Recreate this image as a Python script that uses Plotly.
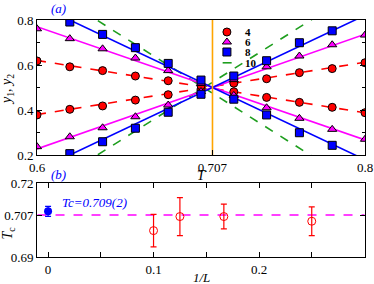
import plotly.graph_objects as go

# ---------------- data ----------------
T = [0.60, 0.62, 0.64, 0.66, 0.68, 0.70, 0.72, 0.74, 0.76, 0.78, 0.80]
# L = 4 (circles)
y4_inc = [0.378, 0.403, 0.418, 0.444, 0.468, 0.492, 0.519, 0.539, 0.566, 0.584, 0.610]
y4_dec = [0.618, 0.592, 0.575, 0.551, 0.530, 0.508, 0.481, 0.456, 0.434, 0.412, 0.388]
# L = 6 (triangles)
y6_inc = [0.237, 0.281, 0.321, 0.370, 0.422, 0.482, 0.535, 0.592, 0.640, 0.690, 0.733]
y6_dec = [0.761, 0.717, 0.672, 0.631, 0.575, 0.518, 0.465, 0.410, 0.363, 0.314, 0.270]
# L = 8 (squares)
y8_inc = [None, 0.206, 0.259, 0.319, 0.390, 0.470, 0.551, 0.619, 0.699, 0.752, None]
y8_dec = [None, 0.791, 0.736, 0.677, 0.607, 0.533, 0.448, 0.378, 0.299, 0.243, None]

# straight fit lines (values at T = 0.6 and T = 0.8)
fit_T = [0.6, 0.8]
fit4_inc = [0.380, 0.612]
fit4_dec = [0.620, 0.388]
fit6_inc = [0.227, 0.737]
fit6_dec = [0.770, 0.267]
fit8_inc = [0.131, 0.821]
fit8_dec = [0.869, 0.179]
fit10_inc = [0.030, 0.952]
fit10_dec = [0.968, 0.046]

T_cross = 0.707

# panel (b)
invL = [0.1, 0.125, 1/6, 0.25]
Tc_L = [0.7007, 0.7064, 0.7064, 0.7045]
Tc_err = [0.0066, 0.0077, 0.0050, 0.0058]
invL_inf = [0.0]
Tc_inf = [0.7085]
Tc_inf_err = [0.002]
Tc_ref = 0.707

legend_labels = ["4", "6", "8", "10"]

x1_ticks = [0.6, 0.707, 0.8]
x1_text = ["0.6", "0.707", "0.8"]
y1_ticks = [0.2, 0.4, 0.6, 0.8]
y1_text = ["0.2", "0.4", "0.6", "0.8"]
x2_ticks = [0, 0.1, 0.2]
x2_text = ["0", "0.1", "0.2"]
y2_ticks = [0.69, 0.707, 0.72]
y2_text = ["0.69", "0.707", "0.72"]

# ---------------- styles ----------------
RED = "#FF0000"
MAG = "#FF00FF"
BLUE = "#0000FF"
GREEN = "#1E9E1E"
ORANGE = "#FFA500"
FONT = "Liberation Serif"

fig = go.Figure()

def line(x, y, color, dash):
    fig.add_trace(go.Scatter(x=x, y=y, mode="lines", xaxis="x", yaxis="y",
                             line=dict(color=color, width=1.6, dash=dash),
                             showlegend=False, hoverinfo="skip"))

def pts(y, color, symbol, size):
    fig.add_trace(go.Scatter(x=T, y=y, mode="markers", xaxis="x", yaxis="y",
                             marker=dict(color=color, symbol=symbol, size=size,
                                         line=dict(color="black", width=1)),
                             showlegend=False))

# green (L=10) lines
line(fit_T, fit10_inc, GREEN, "dash")
line(fit_T, fit10_dec, GREEN, "dash")
# fits
line(fit_T, fit4_inc, RED, "dash")
line(fit_T, fit4_dec, RED, "dash")
line(fit_T, fit6_inc, MAG, "solid")
line(fit_T, fit6_dec, MAG, "solid")
line(fit_T, fit8_inc, BLUE, "solid")
line(fit_T, fit8_dec, BLUE, "solid")
# orange vertical line at crossing
fig.add_trace(go.Scatter(x=[T_cross, T_cross], y=[0.2, 0.8], mode="lines",
                         xaxis="x", yaxis="y", line=dict(color=ORANGE, width=1.6),
                         showlegend=False))
# points
pts(y4_inc, RED, "circle", 8)
pts(y4_dec, RED, "circle", 8)
pts(y6_inc, MAG, "triangle-up", 8)
pts(y6_dec, MAG, "triangle-up", 8)
pts(y8_inc, BLUE, "square", 8)
pts(y8_dec, BLUE, "square", 8)

# ---- manual legend on an overlay axis (0..1 over panel a) ----
leg_x = 0.579
leg_y = [0.911, 0.837, 0.763, 0.683]
leg_style = [(RED, "circle"), (MAG, "triangle-up"), (BLUE, "square")]
for i, (c, s) in enumerate(leg_style):
    fig.add_trace(go.Scatter(x=[leg_x], y=[leg_y[i]], mode="markers",
                             xaxis="x3", yaxis="y3",
                             marker=dict(color=c, symbol=s, size=8,
                                         line=dict(color="black", width=1)),
                             showlegend=False))
fig.add_trace(go.Scatter(x=[leg_x - 0.013, leg_x + 0.034], y=[leg_y[3], leg_y[3]],
                         mode="lines", xaxis="x3", yaxis="y3",
                         line=dict(color=GREEN, width=1.6, dash="dash"),
                         showlegend=False))
annotations = []
for i, lab in enumerate(legend_labels):
    annotations.append(dict(x=0.628, y=leg_y[i], xref="x3", yref="y3",
                            text="<b>%s</b>" % lab, showarrow=False,
                            xanchor="left", yanchor="middle",
                            font=dict(family=FONT, size=11, color="black")))

# ---- panel (b) ----
fig.add_trace(go.Scatter(x=[-0.01, 0.30], y=[Tc_ref, Tc_ref], mode="lines",
                         xaxis="x2", yaxis="y2",
                         line=dict(color=MAG, width=1.4, dash="dash"),
                         showlegend=False))
fig.add_trace(go.Scatter(x=invL, y=Tc_L, mode="markers", xaxis="x2", yaxis="y2",
                         marker=dict(color=RED, symbol="circle-open", size=8,
                                     line=dict(color=RED, width=1)),
                         error_y=dict(type="data", array=Tc_err, color=RED,
                                      thickness=1.2, width=3),
                         showlegend=False))
fig.add_trace(go.Scatter(x=invL_inf, y=Tc_inf, mode="markers", xaxis="x2", yaxis="y2",
                         marker=dict(color=BLUE, symbol="circle", size=8),
                         error_y=dict(type="data", array=Tc_inf_err, color=BLUE,
                                      thickness=1.2, width=3),
                         showlegend=False))

annotations += [
    dict(x=0.011, y=0.7121, xref="x2", yref="y2", text="<i>Tc=0.709(2)</i>",
         showarrow=False, xanchor="left", yanchor="middle",
         font=dict(family=FONT, size=13, color=BLUE)),
    dict(x=0.0366, y=1.0506, xref="paper", yref="paper", text="<i>(a)</i>",
         showarrow=False, xanchor="left", yanchor="middle",
         font=dict(family=FONT, size=13, color=BLUE)),
    dict(x=0.0366, y=0.346, xref="paper", yref="paper", text="<i>(b)</i>",
         showarrow=False, xanchor="left", yanchor="middle",
         font=dict(family=FONT, size=13, color=BLUE)),
    dict(x=0.5, y=0.342, xref="paper", yref="paper", text="<i>T</i>",
         showarrow=False, xanchor="center", yanchor="middle",
         font=dict(family=FONT, size=14, color="black")),
    dict(x=0.5, y=-0.085, xref="paper", yref="paper", text="<i>1/L</i>",
         showarrow=False, xanchor="center", yanchor="middle",
         font=dict(family=FONT, size=13, color="black")),
    dict(x=-0.088, y=0.705, xref="paper", yref="paper",
         text="<i>y</i><sub>1</sub>, <i>y</i><sub>2</sub>", textangle=-90,
         showarrow=False, xanchor="center", yanchor="middle",
         font=dict(family=FONT, size=14, color="black")),
    dict(x=-0.088, y=0.10, xref="paper", yref="paper",
         text="<i>T</i><sub>c</sub>", textangle=-90,
         showarrow=False, xanchor="center", yanchor="middle",
         font=dict(family=FONT, size=14, color="black")),
]

axis_common = dict(showgrid=False, zeroline=False, showline=True, linecolor="black",
                   linewidth=1, ticks="inside", tickcolor="black", ticklen=5,
                   automargin=False,
                   tickfont=dict(family=FONT, size=13, color="black"))

fig.update_layout(
    width=374, height=284,
    margin=dict(l=37, r=9, t=20, b=27, autoexpand=False),
    paper_bgcolor="white", plot_bgcolor="white",
    showlegend=False,
    xaxis=dict(**axis_common, domain=[0, 1], range=[0.6, 0.8], anchor="y",
               tickmode="array", tickvals=x1_ticks, ticktext=x1_text, mirror=True),
    yaxis=dict(**axis_common, domain=[0.4304, 1], range=[0.2, 0.8], anchor="x",
               tickmode="array", tickvals=y1_ticks, ticktext=y1_text, mirror="ticks",
               minor=dict(tickmode="array", tickvals=[0.3, 0.5, 0.7], ticks="inside",
                          ticklen=3, tickcolor="black")),
    xaxis2=dict(**axis_common, domain=[0, 1], range=[-0.0105, 0.3005], anchor="y2",
                tickmode="array", tickvals=x2_ticks, ticktext=x2_text, mirror="ticks",
                minor=dict(tickmode="array", tickvals=[0.05, 0.15, 0.25], ticks="inside",
                           ticklen=5, tickcolor="black")),
    yaxis2=dict(**axis_common, domain=[0, 0.3122], range=[0.69, 0.72], anchor="x2",
                tickmode="array", tickvals=y2_ticks, ticktext=y2_text, mirror="ticks"),
    xaxis3=dict(domain=[0, 1], range=[0, 1], anchor="y3", visible=False,
                overlaying="x", automargin=False),
    yaxis3=dict(domain=[0.4304, 1], range=[0, 1], anchor="x3", visible=False,
                overlaying="y", automargin=False),
    annotations=annotations,
)

# remove the browser's default 8px page margin so the figure sits at the top-left
fig.write_html("out.html",
               config={"displayModeBar": False},
               post_script="document.body.style.margin='0';document.body.style.padding='0';")
